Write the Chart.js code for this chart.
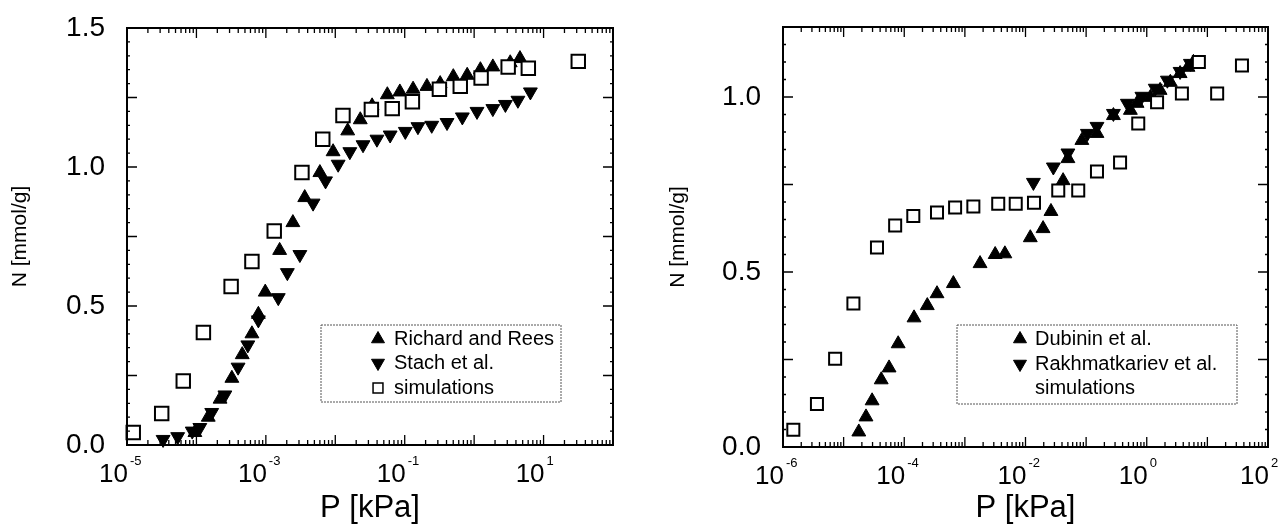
<!DOCTYPE html>
<html>
<head>
<meta charset="utf-8">
<script src="https://cdn.jsdelivr.net/npm/chart.js@4/dist/chart.umd.min.js"></script>
<style>
  body { margin: 0; background: #fff; width: 1288px; height: 527px; position: relative; overflow: hidden; }
  .panel { position: absolute; top: 0; width: 644px; height: 527px; }
</style>
</head>
<body>
<div class="panel" style="left:0"><canvas id="leftChart" width="644" height="527"></canvas></div>
<div class="panel" style="left:644px"><canvas id="rightChart" width="644" height="527"></canvas></div>
<script>
// left panel: pressure [kPa] and loading [mmol/g]
const rrP = [9.5e-5, 1.48e-4, 2.19e-4, 3.24e-4, 4.57e-4, 6.3e-4, 7.8e-4, 9.8e-4, 1.58e-3, 2.45e-3, 3.63e-3, 6.0e-3, 9.3e-3,
  0.0151, 0.0229, 0.0339, 0.0562, 0.0851, 0.132, 0.209, 0.324, 0.501, 0.794, 1.23, 1.86, 3.31, 4.57];
const rrN = [0.045, 0.10, 0.165, 0.24, 0.325, 0.40, 0.47, 0.55, 0.70, 0.80, 0.89, 0.98, 1.055,
  1.13, 1.17, 1.22, 1.26, 1.27, 1.28, 1.29, 1.30, 1.325, 1.33, 1.35, 1.36, 1.375, 1.39];
const stachP = [3.31e-5, 5.37e-5, 8.7e-5, 1.12e-4, 1.66e-4, 2.57e-4, 3.98e-4, 5.5e-4, 7.8e-4, 1.51e-3, 2.04e-3, 3.09e-3, 4.79e-3,
  7.24e-3, 0.011, 0.0162, 0.0251, 0.0398, 0.0617, 0.102, 0.155, 0.245, 0.407, 0.676, 1.10, 1.86, 2.82, 4.27, 6.46];
const stachN = [0.02, 0.03, 0.05, 0.063, 0.117, 0.18, 0.28, 0.36, 0.45, 0.53, 0.62, 0.685, 0.87,
  0.95, 1.01, 1.055, 1.08, 1.10, 1.115, 1.128, 1.145, 1.15, 1.16, 1.18, 1.20, 1.21, 1.225, 1.24, 1.27];
const simLeftP = [1.23e-5, 3.16e-5, 6.46e-5, 1.26e-4, 3.16e-4, 6.3e-4, 1.32e-3, 3.31e-3, 6.6e-3, 0.0129,
  0.0331, 0.0661, 0.129, 0.316, 0.631, 1.26, 3.09, 6.03, 31.6];
const simLeftN = [0.045, 0.113, 0.23, 0.405, 0.57, 0.66, 0.77, 0.98, 1.10, 1.185,
  1.207, 1.21, 1.235, 1.28, 1.29, 1.32, 1.36, 1.355, 1.38];

// right panel
const dubP = [1.78e-5, 2.34e-5, 2.95e-5, 4.17e-5, 5.62e-5, 7.94e-5, 1.45e-4, 2.40e-4, 3.47e-4, 6.46e-4, 1.78e-3, 3.16e-3, 4.57e-3,
  0.012, 0.0195, 0.0263, 0.0417, 0.0501, 0.0851, 0.151, 0.282, 0.537, 0.692, 1.15, 1.66, 2.45, 3.55, 4.79, 5.89];
const dubN = [0.043, 0.086, 0.132, 0.192, 0.226, 0.295, 0.369, 0.404, 0.438, 0.467, 0.524, 0.55, 0.552,
  0.598, 0.624, 0.673, 0.761, 0.824, 0.876, 0.896, 0.947, 0.962, 0.982, 0.999, 1.019, 1.042, 1.067, 1.085, 1.099];
const rakhP = [0.0135, 0.0288, 0.0501, 0.105, 0.151, 0.282, 0.479, 0.832, 1.38, 2.19, 3.55, 5.25];
const rakhN = [0.756, 0.80, 0.84, 0.896, 0.916, 0.953, 0.982, 1.002, 1.025, 1.048, 1.073, 1.096];
const simRightP = [1.48e-6, 3.63e-6, 7.24e-6, 1.45e-5, 3.55e-5, 7.08e-5, 1.41e-4, 3.47e-4, 6.9e-4, 1.38e-3, 3.55e-3, 6.9e-3,
  0.0138, 0.0347, 0.0741, 0.151, 0.363, 0.724, 1.48, 3.80, 7.24, 14.5, 37.2];
const simRightN = [0.049, 0.123, 0.252, 0.41, 0.57, 0.633, 0.66, 0.67, 0.684, 0.687, 0.695, 0.695,
  0.698, 0.733, 0.733, 0.787, 0.813, 0.924, 0.985, 1.01, 1.10, 1.01, 1.09];

const leftExponents = [-5, -3, -1, 1];
const rightExponents = [-6, -4, -2, 0, 2];

const FONT = '"Liberation Sans", Arial, Helvetica, sans-serif';

function pts(xs, ys) {
  return xs.map((x, i) => ({ x: x, y: ys[i] }));
}

function upSet(label, data, r) {
  return { label, data, pointStyle: 'triangle', pointRadius: r, pointHoverRadius: r,
    backgroundColor: '#000', borderColor: '#000', borderWidth: 1, order: 2, clip: false };
}
function downSet(label, data, r) {
  return { label, data, pointStyle: 'triangle', rotation: 180, pointRadius: r, pointHoverRadius: r,
    backgroundColor: '#000', borderColor: '#000', borderWidth: 1, order: 1, clip: false };
}
function squareSet(label, data, r) {
  return { label, data, pointStyle: 'rect', pointRadius: r, pointHoverRadius: r,
    backgroundColor: '#fff', borderColor: '#000', borderWidth: 2, order: 0, clip: false };
}

// frame, inward ticks, 10^n labels and the boxed legend
const framePlugin = {
  id: 'frame',
  afterDraw(chart, args, opts) {
    const ctx = chart.ctx;
    const a = chart.chartArea;
    const xs = chart.scales.x, ys = chart.scales.y;
    ctx.save();
    ctx.strokeStyle = '#000';
    ctx.lineWidth = 2;
    ctx.strokeRect(a.left, a.top, a.right - a.left, a.bottom - a.top);

    ctx.lineWidth = 1.3;
    ctx.beginPath();
    const eMin = Math.round(Math.log10(xs.min)), eMax = Math.round(Math.log10(xs.max));
    for (let e = eMin; e <= eMax; e++) {
      for (let m = 1; m < 10; m++) {
        if (e === eMax && m > 1) break;
        const px = xs.getPixelForValue(m * Math.pow(10, e));
        const len = m === 1 ? 10 : 5;
        ctx.moveTo(px, a.bottom); ctx.lineTo(px, a.bottom - len);
        ctx.moveTo(px, a.top); ctx.lineTo(px, a.top + len);
      }
    }
    for (let k = 0; k * 0.05 <= ys.max + 1e-9; k++) {
      const py = ys.getPixelForValue(k * 0.05);
      const len = k % 5 === 0 ? 10 : 3;
      ctx.moveTo(a.left, py); ctx.lineTo(a.left + len, py);
      ctx.moveTo(a.right, py); ctx.lineTo(a.right - len, py);
    }
    ctx.stroke();

    ctx.fillStyle = '#000';
    ctx.textBaseline = 'alphabetic';
    opts.exponents.forEach(e => {
      const px = xs.getPixelForValue(Math.pow(10, e));
      ctx.font = '26px ' + FONT;
      ctx.textAlign = 'right';
      ctx.fillText('10', px + 1, a.bottom + 37);
      ctx.font = '13px ' + FONT;
      ctx.textAlign = 'left';
      ctx.fillText(String(e), px + 3, a.bottom + 20);
    });

    const lg = opts.legend;
    ctx.lineWidth = 1;
    ctx.strokeStyle = '#555';
    ctx.setLineDash([2, 1]);
    ctx.strokeRect(lg.x1, lg.y1, lg.x2 - lg.x1, lg.y2 - lg.y1);
    ctx.setLineDash([]);
    ctx.font = '20px ' + FONT;
    ctx.textAlign = 'left';
    ctx.textBaseline = 'middle';
    lg.items.forEach(it => {
      if (it.style) {
        ctx.fillStyle = it.style === 'square' ? '#fff' : '#000';
        ctx.strokeStyle = '#000';
        ctx.lineWidth = it.style === 'square' ? 1.5 : 1;
        Chart.helpers.drawPoint(ctx, {
          pointStyle: it.style === 'square' ? 'rect' : 'triangle',
          radius: it.style === 'square' ? 7 : 7.5,
          rotation: it.style === 'down' ? 180 : 0,
          borderWidth: ctx.lineWidth
        }, lg.markerX, it.y);
      }
      ctx.fillStyle = '#000';
      ctx.fillText(it.text, lg.textX, it.y);
    });
    ctx.restore();
  }
};

function makeChart(id, cfg) {
  return new Chart(document.getElementById(id), {
    type: 'scatter',
    data: { datasets: cfg.datasets },
    plugins: [framePlugin],
    options: {
      responsive: false,
      animation: false,
      layout: { padding: cfg.padding, autoPadding: false },
      plugins: {
        legend: { display: false },
        tooltip: { enabled: false },
        frame: { exponents: cfg.exponents, legend: cfg.legend }
      },
      scales: {
        x: {
          type: 'logarithmic', min: cfg.xMin, max: cfg.xMax,
          grid: { display: false, drawTicks: false }, border: { display: false },
          ticks: { display: false },
          title: { display: true, text: 'P [kPa]', color: '#000', font: { family: FONT, size: 31 }, padding: { top: 0, bottom: 0 } },
          afterFit(s) { s.height = cfg.xHeight; s.paddingLeft = 0; s.paddingRight = 0; }
        },
        y: {
          min: 0, max: cfg.yMax,
          grid: { display: false, drawTicks: false }, border: { display: false },
          ticks: {
            stepSize: 0.5, padding: 22, color: '#000', autoSkip: false, includeBounds: false,
            font: { family: FONT, size: 28 },
            callback: v => (Math.abs(v * 2 - Math.round(v * 2)) < 1e-6 ? v.toFixed(1) : '')
          },
          title: { display: true, text: 'N [mmol/g]', color: '#000', font: { family: FONT, size: 21 }, padding: { top: cfg.yTitlePad, bottom: 0 } },
          // keep the label overhang from pushing the plot down
          afterFit(s) { s.width = cfg.yWidth; s.paddingTop = 0; s.paddingBottom = 0; }
        }
      }
    }
  });
}

makeChart('leftChart', {
  datasets: [
    squareSet('simulations', pts(simLeftP, simLeftN), 9.5),
    downSet('Stach et al.', pts(stachP, stachN), 8),
    upSet('Richard and Rees', pts(rrP, rrN), 8)
  ],
  padding: { top: 28, right: 31, bottom: 0, left: 0 },
  xMin: 1e-5, xMax: 1e2, yMax: 1.5, xHeight: 82, yWidth: 127, yTitlePad: 8,
  exponents: leftExponents,
  legend: {
    x1: 321, y1: 325, x2: 561, y2: 402, markerX: 378, textX: 394,
    items: [
      { style: 'up', text: 'Richard and Rees', y: 339 },
      { style: 'down', text: 'Stach et al.', y: 363 },
      { style: 'square', text: 'simulations', y: 388 }
    ]
  }
});

makeChart('rightChart', {
  datasets: [
    squareSet('simulations', pts(simRightP, simRightN), 8.5),
    downSet('Rakhmatkariev et al.', pts(rakhP, rakhN), 8),
    upSet('Dubinin et al.', pts(dubP, dubN), 8)
  ],
  padding: { top: 27, right: 20, bottom: 0, left: 0 },
  xMin: 1e-6, xMax: 1e2, yMax: 1.2, xHeight: 80, yWidth: 139, yTitlePad: 22,
  exponents: rightExponents,
  legend: {
    x1: 313, y1: 325, x2: 593, y2: 404, markerX: 376, textX: 391,
    items: [
      { style: 'up', text: 'Dubinin et al.', y: 339 },
      { style: 'down', text: 'Rakhmatkariev et al.', y: 364 },
      { style: null, text: 'simulations', y: 388 }
    ]
  }
});
</script>
</body>
</html>
